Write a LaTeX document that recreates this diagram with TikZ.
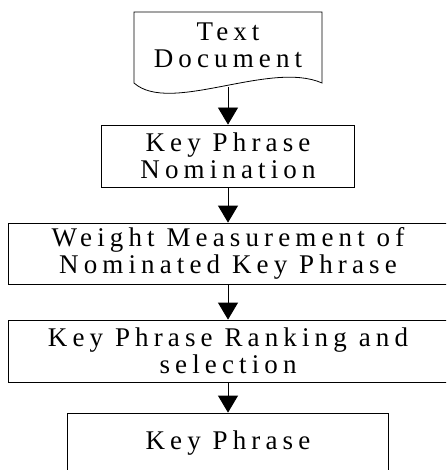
\documentclass[tikz,border=0pt]{standalone}
\usepackage{fontspec}
\setmainfont{Liberation Serif}[LetterSpace=19]
\usetikzlibrary{arrows.meta}
\begin{document}
\begin{tikzpicture}[x=1pt,y=-1pt,
  txt/.style={align=center, font=\fontsize{27}{27}\selectfont, inner sep=0pt},
  stepbox/.style={txt, draw, line width=0.8pt},
  flow/.style={draw, line width=0.8pt, -{Triangle[width=20pt,length=17pt]}}]
\useasboundingbox (0,0) rectangle (446,470);
\clip (0,0) rectangle (446,470);
% document shape
\node[txt] (doc) at (228,45) {Text\\Document};
\draw[line width=0.8pt] (134,12) -- (322,12) -- (322,83)
  .. controls (270,60) and (170,115) .. (134,83) -- cycle;
\coordinate (docb) at (228,87);
\node[stepbox, minimum width=253pt, minimum height=62pt] (b2) at (228,156) {Key Phrase\\Nomination};
\node[stepbox, minimum width=440pt, minimum height=61pt] (b3) at (228,253.5) {Weight Measurement of\\Nominated Key Phrase};
\node[stepbox, minimum width=440pt, minimum height=62pt] (b4) at (228,351) {Key Phrase Ranking and\\selection};
\node[stepbox, minimum width=321pt, minimum height=60pt] (b5) at (228,443) {Key Phrase};
\draw[flow] (docb) -- (b2.north);
\draw[flow] (b2.south) -- (b3.north);
\draw[flow] (b3.south) -- (b4.north);
\draw[flow] (b4.south) -- (b5.north);
\end{tikzpicture}
\end{document}
